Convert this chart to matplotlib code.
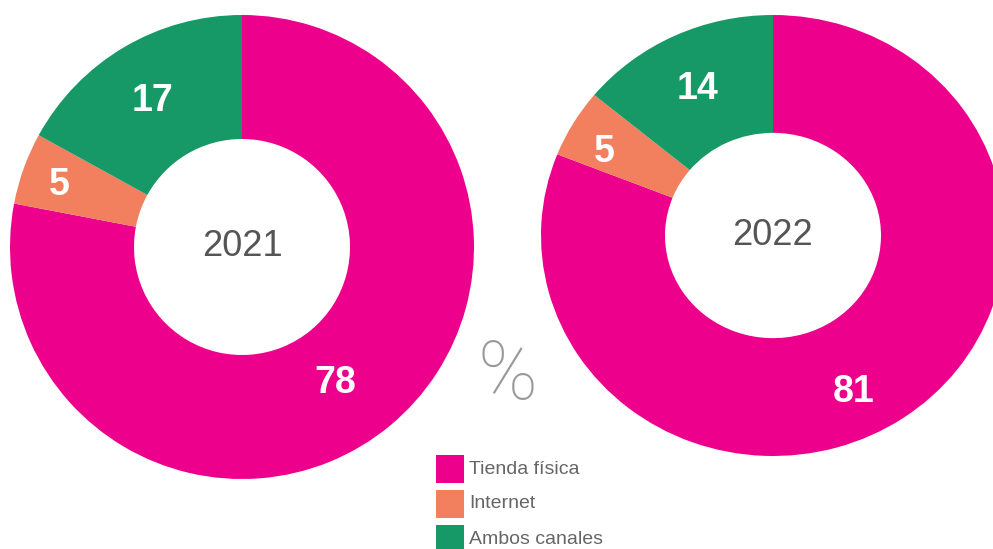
import numpy as np
import matplotlib.pyplot as plt
from matplotlib.patches import Rectangle

# data
categories = ["Tienda física", "Internet", "Ambos canales"]
years = ["2021", "2022"]
values_2021 = [78, 5, 17]
values_2022 = [81, 5, 14]

colors = ["#EC008C", "#F27F5E", "#169966"]

W, H = 993, 549
fig = plt.figure(figsize=(W / 100, H / 100), dpi=100)

# pixel boxes for each donut: (left, top, width, height)
boxes = [(10, 15, 464, 464), (541, 15, 464, 441)]
# label radius and small angle nudge per slice
lab_r = [[0.71, 0.83, 0.74], [0.79, 0.82, 0.74]]
lab_shift = [[-5, 1, 1], [-8, 3, 1]]


def px_axes(left, top, w, h):
    return fig.add_axes([left / W, 1 - (top + h) / H, w / W, h / H])


for i, vals in enumerate([values_2021, values_2022]):
    ax = px_axes(*boxes[i])
    wedges, _ = ax.pie(vals, colors=colors, startangle=90, counterclock=False,
                       radius=1, wedgeprops=dict(width=1 - 108 / 232, linewidth=0))
    ax.set_aspect("auto")
    ax.set_xlim(-1, 1)
    ax.set_ylim(-1, 1)
    ax.axis("off")
    for j, w in enumerate(wedges):
        ang = np.deg2rad((w.theta1 + w.theta2) / 2 + lab_shift[i][j])
        r = lab_r[i][j]
        ax.text(r * np.cos(ang), r * np.sin(ang), str(vals[j]), ha="center", va="center",
                color="white", fontsize=27, fontweight="bold", family="Liberation Sans")
    ax.text(0, 0, years[i], ha="center", va="center", color="#555555",
            fontsize=26, family="Liberation Sans")

# percent sign
fig.text(508 / W, 1 - 377 / H, "%", ha="center", va="center", color="#999999",
         fontsize=58, family=["Roboto", "DejaVu Sans"], fontweight="light")

# legend
for k, cat in enumerate(categories):
    yc = 469 + 35 * k
    fig.add_artist(Rectangle((436 / W, 1 - (yc + 14) / H), 28 / W, 28 / H,
                             transform=fig.transFigure, color=colors[k], lw=0))
    fig.text(469 / W, 1 - yc / H, cat, ha="left", va="center", color="#666666",
             fontsize=14, family="Liberation Sans")

fig.savefig("out.png", dpi=100)
